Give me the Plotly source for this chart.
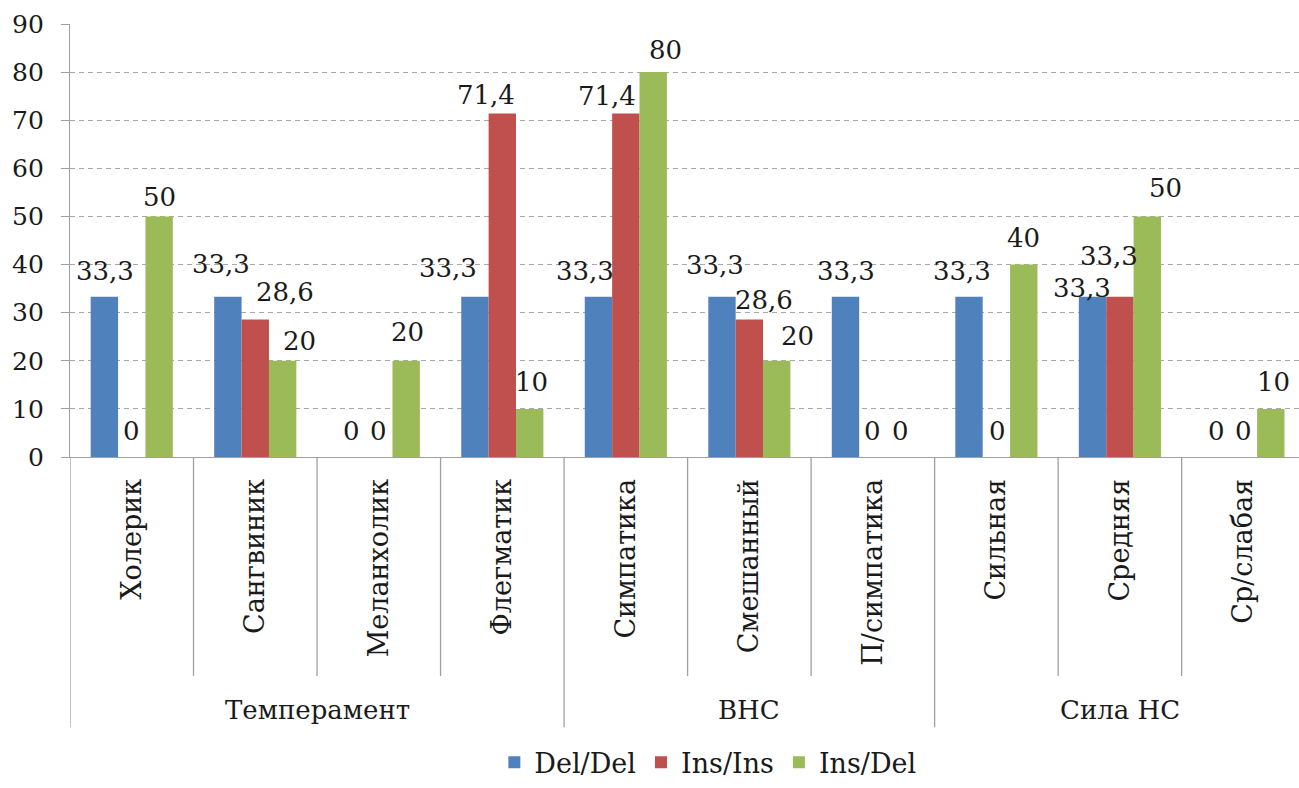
import plotly.graph_objects as go

# Categories and their groups
categories = ["Холерик", "Сангвиник", "Меланхолик", "Флегматик",
              "Симпатика", "Смешанный", "П/симпатика",
              "Сильная", "Средняя", "Ср/слабая"]
groups = ["Темперамент", "ВНС", "Сила НС"]
group_sizes = [4, 3, 3]

# Series values (%)
del_del = [33.3, 33.3, 0, 33.3, 33.3, 33.3, 33.3, 33.3, 33.3, 0]
ins_ins = [0, 28.6, 0, 71.4, 71.4, 28.6, 0, 0, 33.3, 0]
ins_del = [50, 20, 20, 10, 80, 20, 0, 40, 50, 10]

series_names = ["Del/Del", "Ins/Ins", "Ins/Del"]
series_colors = ["#4F81BD", "#C0504D", "#9BBB59"]

# Pixel nudges of the value labels (dx right, dy up from the bar top)
label_dx = [
    [1, -7, 0, -27, -13, -7, 1, -7, -11, 0],
    [0, 30, 0, -16, -19, 15, 0, 1, -11, 0],
    [0, 17, 1, 2, 12, 21, 0, 0, 18, 3],
]
label_dy = [
    [26, 33, 26, 29, 26, 32, 26, 26, 9, 26],
    [26, 27, 26, 18, 17, 19, 26, 26, 41, 26],
    [19, 20, 29, 27, 22, 25, 26, 27, 28, 27],
]

FONT = "DejaVu Serif"
TXT = "#1a1a1a"
AX = "#A0A0A0"
BARGAP = 0.335


def fmt(v):
    return f"{v:g}".replace(".", ",")


fig = go.Figure()
all_series = [del_del, ins_ins, ins_del]
for name, vals, col in zip(series_names, all_series, series_colors):
    fig.add_trace(go.Bar(name=name, x=categories, y=vals, marker_color=col,
                         marker_line_width=0))

# plot area geometry in pixels
top, bottom = 24, 463
H = bottom - top

annotations = []
# value labels above each bar
bar_w = (1 - BARGAP) / len(all_series)
for s, vals in enumerate(all_series):
    off = (s - (len(all_series) - 1) / 2) * bar_w
    for i, v in enumerate(vals):
        annotations.append(dict(
            x=i + off, y=v, xref="x", yref="y", text=fmt(v), showarrow=False,
            xanchor="center", yanchor="middle",
            xshift=label_dx[s][i], yshift=label_dy[s][i],
            font=dict(family=FONT, size=26, color=TXT)))

shapes = []
# boundaries between individual categories and between groups
group_bounds = [-0.5]
acc = -0.5
for n in group_sizes:
    acc += n
    group_bounds.append(acc)
for k in range(len(categories) + 1):
    b = k - 0.5
    end = (bottom - 737) / H if b in group_bounds else (bottom - 685) / H
    shapes.append(dict(type="line", xref="x", yref="paper", x0=b, x1=b,
                       y0=0, y1=end, line=dict(color=AX, width=1.3)))

start = -0.5
for g, n in zip(groups, group_sizes):
    annotations.append(dict(x=start + n / 2, y=(bottom - 719) / H, xref="x", yref="paper",
                            text=g, showarrow=False, yanchor="middle",
                            font=dict(family=FONT, size=26, color=TXT)))
    start += n

fig.update_layout(
    width=1299, height=788,
    margin=dict(l=70, r=0, t=top, b=788 - bottom),
    paper_bgcolor="white", plot_bgcolor="white",
    barmode="group", bargap=BARGAP, bargroupgap=0,
    shapes=shapes, annotations=annotations,
    showlegend=True,
    legend=dict(orientation="h", x=0.519, xanchor="center", y=(bottom - 773) / H,
                yanchor="middle", font=dict(family=FONT, size=27, color=TXT),
                itemwidth=30, traceorder="normal"),
    font=dict(family=FONT, color=TXT),
)
fig.update_xaxes(type="category", range=[-0.5, 9.45], showline=True,
                 linecolor=AX, linewidth=1.3, ticks="", tickangle=-90,
                 ticklabelstandoff=10,
                 tickfont=dict(family=FONT, size=27, color=TXT), showgrid=False)
fig.update_yaxes(range=[0, 90], dtick=10, showline=True, linecolor=AX, linewidth=1.3,
                 ticks="outside", ticklen=8, tickcolor=AX, tickwidth=1.3,
                 ticklabelstandoff=12,
                 tickfont=dict(family=FONT, size=25, color=TXT),
                 showgrid=True, gridcolor="#A8A8A8", griddash="5px,4px", gridwidth=1,
                 zeroline=False)

fig.write_html("out.html")
